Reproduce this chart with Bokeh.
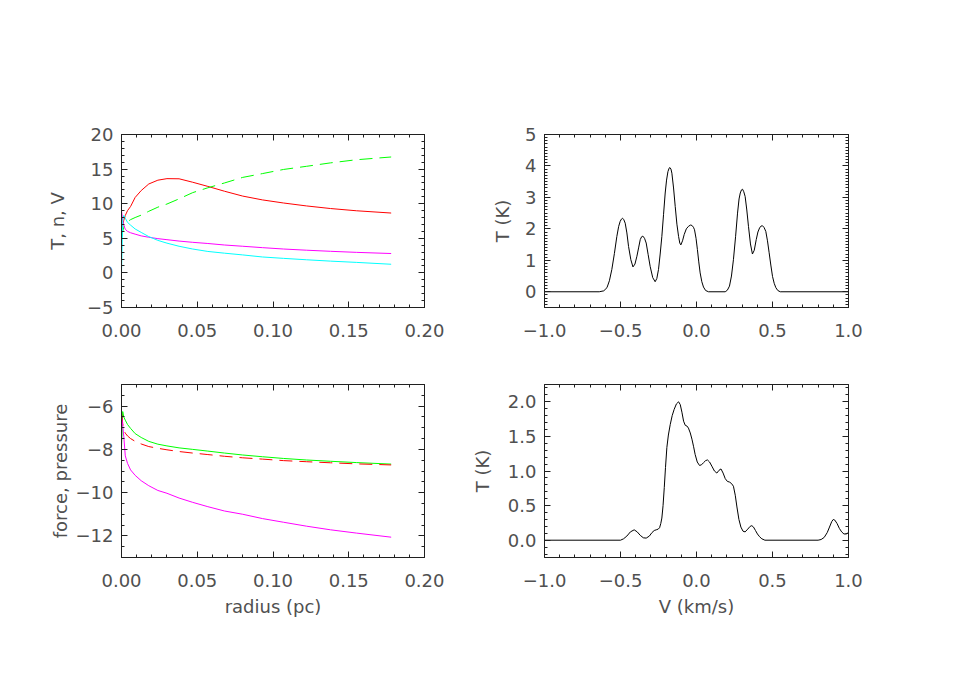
import numpy as np
from bokeh.plotting import figure
from bokeh.layouts import column, row
from bokeh.models import LinearAxis, FixedTicker
from bokeh.embed import file_html
from bokeh.resources import INLINE

# ---------------- data ----------------
radius = [0.0, 0.0008, 0.0015, 0.0025, 0.004, 0.006, 0.009, 0.013, 0.018, 0.024, 0.03,
          0.038, 0.047, 0.057, 0.068, 0.08, 0.093, 0.107, 0.122, 0.138, 0.155, 0.178]

# top-left panel: T, n, V
tl_red = [5.2, 6.8, 7.6, 8.3, 9.0, 9.6, 10.9, 11.9, 12.85, 13.4, 13.62,
          13.6, 13.1, 12.5, 11.8, 11.1, 10.55, 10.1, 9.68, 9.3, 8.98, 8.65]
tl_green = [5.0, 6.0, 6.6, 7.0, 7.4, 7.7, 8.0, 8.35, 8.9, 9.5, 9.95,
            10.7, 11.6, 12.3, 13.0, 13.8, 14.35, 14.95, 15.4, 15.9, 16.35, 16.75]
tl_magenta = [9.0, 7.5, 6.9, 6.3, 6.0, 5.8, 5.6, 5.35, 5.15, 4.95, 4.8,
              4.6, 4.42, 4.25, 4.03, 3.85, 3.65, 3.45, 3.28, 3.12, 2.97, 2.8]
tl_cyan = [0.0, 7.6, 8.3, 7.9, 7.3, 6.9, 6.35, 5.85, 5.25, 4.7, 4.3,
           3.85, 3.45, 3.1, 2.85, 2.6, 2.3, 2.1, 1.9, 1.7, 1.52, 1.25]

# bottom-left panel: force, pressure
bl_green = [-7.9, -6.25, -6.5, -6.65, -6.85, -7.03, -7.27, -7.45, -7.63, -7.76, -7.84,
            -7.93, -8.0, -8.08, -8.17, -8.26, -8.34, -8.42, -8.49, -8.55, -8.61, -8.68]
bl_red = [-6.3, -6.8, -7.1, -7.25, -7.38, -7.5, -7.63, -7.75, -7.87, -7.95, -8.02,
          -8.1, -8.17, -8.24, -8.32, -8.39, -8.45, -8.52, -8.57, -8.62, -8.67, -8.72]
bl_magenta = [-6.5, -6.9, -7.4, -8.3, -8.65, -8.95, -9.2, -9.45, -9.68, -9.9, -10.03,
              -10.25, -10.45, -10.65, -10.85, -11.0, -11.2, -11.37, -11.55, -11.72, -11.87, -12.06]

# top-right spectrum
tr_vel = [-1.0, -0.64, -0.61, -0.589, -0.573, -0.557, -0.540, -0.524, -0.512, -0.502,
          -0.494, -0.487, -0.478, -0.469, -0.458, -0.447, -0.432, -0.418, -0.405, -0.392,
          -0.380, -0.370, -0.361, -0.353, -0.342, -0.331, -0.318, -0.305, -0.288, -0.272,
          -0.261, -0.250, -0.239, -0.228, -0.217, -0.206, -0.197, -0.188, -0.180, -0.175,
          -0.168, -0.162, -0.151, -0.140, -0.129, -0.118, -0.110, -0.103, -0.092, -0.081,
          -0.067, -0.053, -0.040, -0.030, -0.020, -0.013, -0.003, 0.006, 0.015, 0.024,
          0.035, 0.046, 0.060, 0.079, 0.189, 0.203, 0.217, 0.230, 0.243, 0.257,
          0.270, 0.280, 0.288, 0.296, 0.303, 0.311, 0.320, 0.331, 0.342, 0.355,
          0.368, 0.380, 0.393, 0.404, 0.415, 0.425, 0.434, 0.445, 0.456, 0.467,
          0.478, 0.489, 0.500, 0.511, 0.522, 0.535, 0.551, 1.0]
tr_temp = [0.0, 0.0, 0.03, 0.13, 0.35, 0.71, 1.22, 1.76, 2.08, 2.24,
           2.31, 2.34, 2.29, 2.18, 1.87, 1.44, 1.02, 0.79, 0.88, 1.13,
           1.42, 1.66, 1.75, 1.77, 1.70, 1.55, 1.18, 0.81, 0.45, 0.32,
           0.42, 0.71, 1.20, 1.76, 2.45, 3.14, 3.55, 3.82, 3.93, 3.95,
           3.90, 3.77, 3.30, 2.71, 2.15, 1.76, 1.55, 1.49, 1.62, 1.82,
           2.00, 2.08, 2.12, 2.11, 2.05, 1.97, 1.70, 1.34, 0.95, 0.60,
           0.32, 0.15, 0.04, 0.0, 0.0, 0.05, 0.18, 0.50, 1.02, 1.75,
           2.50, 2.95, 3.14, 3.24, 3.26, 3.18, 3.03, 2.60, 2.08, 1.52,
           1.20, 1.32, 1.66, 1.90, 2.03, 2.09, 2.10, 2.04, 1.92, 1.62,
           1.24, 0.85, 0.49, 0.27, 0.13, 0.04, 0.0, 0.0]

# bottom-right spectrum
br_vel = [-1.0, -0.50, -0.48, -0.458, -0.435, -0.410, -0.39, -0.370, -0.350, -0.331,
          -0.31, -0.293, -0.278, -0.265, -0.252, -0.243, -0.235, -0.228, -0.220, -0.212,
          -0.204, -0.195, -0.185, -0.173, -0.160, -0.147, -0.132, -0.118, -0.107, -0.096,
          -0.085, -0.074, -0.063, -0.053, -0.041, -0.030, -0.019, -0.009, 0.005, 0.020,
          0.033, 0.046, 0.060, 0.072, 0.086, 0.101, 0.118, 0.134, 0.148, 0.161,
          0.175, 0.189, 0.203, 0.217, 0.230, 0.243, 0.255, 0.266, 0.279, 0.292,
          0.306, 0.320, 0.337, 0.353, 0.364, 0.375, 0.388, 0.401, 0.415, 0.430,
          0.450, 0.80, 0.82, 0.84, 0.86, 0.875, 0.89, 0.90, 0.91, 0.925,
          0.94, 0.955, 0.97, 0.985, 1.0]
br_temp = [0.0, 0.0, 0.02, 0.06, 0.12, 0.15, 0.12, 0.07, 0.035, 0.03,
           0.06, 0.11, 0.14, 0.15, 0.16, 0.18, 0.24, 0.32, 0.50, 0.76,
           1.05, 1.34, 1.52, 1.67, 1.80, 1.89, 1.97, 2.00, 1.96, 1.85,
           1.72, 1.66, 1.65, 1.62, 1.55, 1.46, 1.35, 1.24, 1.13, 1.08,
           1.09, 1.12, 1.15, 1.16, 1.13, 1.07, 1.00, 0.97, 1.01, 1.03,
           0.97, 0.89, 0.85, 0.84, 0.82, 0.78, 0.65, 0.48, 0.30, 0.19,
           0.13, 0.12, 0.16, 0.20, 0.21, 0.19, 0.14, 0.09, 0.05, 0.02,
           0.0, 0.0, 0.01, 0.04, 0.11, 0.19, 0.27, 0.30, 0.29, 0.24,
           0.17, 0.12, 0.09, 0.09, 0.11]

# ticks and labels
rad_ticks = [0.0, 0.05, 0.1, 0.15, 0.2]
rad_labels = ["0.00", "0.05", "0.10", "0.15", "0.20"]
vel_ticks = [-1.0, -0.5, 0.0, 0.5, 1.0]
vel_labels = ["\u22121.0", "\u22120.5", "0.0", "0.5", "1.0"]
tl_yticks = [-5, 0, 5, 10, 15, 20]
tl_ylabels = ["\u22125", "0", "5", "10", "15", "20"]
bl_yticks = [-12, -10, -8, -6]
bl_ylabels = ["\u221212", "\u221210", "\u22128", "\u22126"]
tr_yticks = [0, 1, 2, 3, 4, 5]
tr_ylabels = ["0", "1", "2", "3", "4", "5"]
br_yticks = [0.0, 0.5, 1.0, 1.5, 2.0]
br_ylabels = ["0.0", "0.5", "1.0", "1.5", "2.0"]

FONT = "DejaVu Sans"
TXT = "#505050"
AX = "#202020"
FS = "18px"


def minors(lo, hi, step):
    n = int(round((hi - lo) / step))
    return [round(lo + i * step, 6) for i in range(n + 1)]


def style(ax, ticks, labels, minor, show, standoff):
    ax.ticker = FixedTicker(ticks=ticks, minor_ticks=minor)
    ax.major_label_overrides = {t: (l if show else "") for t, l in zip(ticks, labels)}
    ax.major_tick_in = 6
    ax.major_tick_out = 0
    ax.minor_tick_in = 3
    ax.minor_tick_out = 0
    ax.axis_line_color = AX
    ax.major_tick_line_color = AX
    ax.minor_tick_line_color = AX
    ax.major_label_text_font = FONT
    ax.major_label_text_font_size = FS
    ax.major_label_text_color = TXT
    ax.major_label_standoff = standoff
    ax.axis_label_text_font = FONT
    ax.axis_label_text_font_size = FS
    ax.axis_label_text_font_style = "normal"
    ax.axis_label_text_color = TXT


def make(width, height, bl, br, bt, bb, xr, yr, xt, xl, xm, yt, yl, ym,
         xlabel, ylabel, xstand, ystand):
    p = figure(width=width, height=height, x_range=xr, y_range=yr,
               min_border_left=bl, min_border_right=br,
               min_border_top=bt, min_border_bottom=bb,
               toolbar_location=None, output_backend="svg",
               background_fill_color="white", border_fill_color="white")
    p.outline_line_color = None
    p.xgrid.visible = False
    p.ygrid.visible = False
    style(p.xaxis[0], xt, xl, xm, True, 16)
    style(p.yaxis[0], yt, yl, ym, True, 8)
    p.xaxis[0].axis_label = xlabel
    p.yaxis[0].axis_label = ylabel
    p.xaxis[0].axis_label_standoff = xstand
    p.yaxis[0].axis_label_standoff = ystand
    top = LinearAxis()
    style(top, xt, xl, xm, False, 2)
    right = LinearAxis()
    style(right, yt, yl, ym, False, 2)
    p.add_layout(top, "above")
    p.add_layout(right, "right")
    return p


rad_minor = minors(0.0, 0.2, 0.01)
vel_minor = minors(-1.0, 1.0, 0.1)

p1 = make(444, 347, 121, 20, 134, 40, (0, 0.2), (-5, 20),
          rad_ticks, rad_labels, rad_minor, tl_yticks, tl_ylabels, minors(-5, 20, 1),
          None, "T, n, V", 6, 16)
p1.line(radius, tl_red, line_color="#ff0000", line_width=1)
p1.line(radius, tl_green, line_color="#00ff00", line_width=1, line_dash="13 7")
p1.line(radius, tl_magenta, line_color="#ff00ff", line_width=1)
p1.line(radius, tl_cyan, line_color="#00ffff", line_width=1)

p2 = make(464, 347, 100, 60, 134, 40, (-1, 1), (-0.5, 5),
          vel_ticks, vel_labels, vel_minor, tr_yticks, tr_ylabels, minors(-0.5, 5, 0.1),
          None, "T (K)", 6, 9)
p2.line(tr_vel, tr_temp, line_color="black", line_width=1)

p3 = make(444, 280, 121, 20, 37, 70, (0, 0.2), (-13, -5),
          rad_ticks, rad_labels, rad_minor, bl_yticks, bl_ylabels, minors(-13, -5, 0.5),
          "radius (pc)", "force, pressure", 6, 2)
p3.line(radius, bl_green, line_color="#00ff00", line_width=1)
p3.line(radius, bl_red, line_color="#ff0000", line_width=1, line_dash="13 7")
p3.line(radius, bl_magenta, line_color="#ff00ff", line_width=1)

p4 = make(464, 280, 100, 60, 37, 70, (-1, 1), (-0.25, 2.25),
          vel_ticks, vel_labels, vel_minor, br_yticks, br_ylabels, minors(-0.2, 2.2, 0.1),
          "V (km/s)", "T (K)", 6, 12)
p4.line(br_vel, br_temp, line_color="black", line_width=1)

layout = column(row(p1, p2), row(p3, p4))

open("out.html", "w").write(file_html(layout, INLINE))
